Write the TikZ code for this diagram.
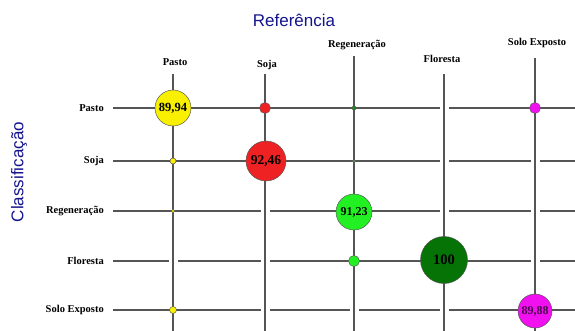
\documentclass[tikz,border=0pt]{standalone}
\usepackage{fontspec}
\setmainfont{Liberation Serif}
\newfontfamily\arialfont{Liberation Sans}
\definecolor{titblue}{HTML}{14148C}
\definecolor{gridgray}{HTML}{555555}
\definecolor{amarelo}{HTML}{F8F000}
\definecolor{vermelho}{HTML}{EE2222}
\definecolor{verde}{HTML}{22F022}
\definecolor{verdeesc}{HTML}{057305}
\definecolor{magenta2}{HTML}{F010F0}
\definecolor{roxo}{HTML}{4A0A4A}
\tikzset{
  grid/.style={gridgray,line width=1.4pt},
  gap/.style={white,line width=3pt},
  lbl/.style={font=\fontsize{10.5}{12}\selectfont\bfseries,inner sep=0pt},
  dot/.style={circle,draw=black!65,line width=0.5pt,inner sep=0pt,minimum size=#1,
    font=\fontsize{12.5}{14}\selectfont\bfseries}
}
\begin{document}
\begin{tikzpicture}[x=1pt,y=1pt]
            \useasboundingbox (0,0) rectangle (575,-331);
            % titulos
            \node [font=\arialfont\fontsize{17}{20}\selectfont,titblue] (ref) at (294,-20) {Referência};
            \node [font=\arialfont\fontsize{17}{20}\selectfont,titblue,rotate=90] (cla) at (19,-172) {Classificação};
            % colunas (referencia)
            \node [lbl] (hP) at (175,-62) {Pasto};
            \node [lbl] (hS) at (267,-65) {Soja};
            \node [lbl] (hR) at (357,-45) {Regeneração};
            \node [lbl] (hF) at (442,-59) {Floresta};
            \node [lbl] (hE) at (537,-43) {Solo Exposto};
            \coordinate (tP) at (173,-74);
            \coordinate (tS) at (265,-74);
            \coordinate (tR) at (354,-56);
            \coordinate (tF) at (444,-74);
            \coordinate (tE) at (535,-58);
            % linhas (classificacao)
            \node [lbl,anchor=east] (vP) at (104,-108) {Pasto};
            \node [lbl,anchor=east] (vS) at (104,-161) {Soja};
            \node [lbl,anchor=east] (vR) at (104,-211) {Regeneração};
            \node [lbl,anchor=east] (vF) at (104,-261) {Floresta};
            \node [lbl,anchor=east] (vE) at (104,-310) {Solo Exposto};
            \coordinate (lP) at (113,-108);
            \coordinate (lS) at (113,-161);
            \coordinate (lR) at (113,-211);
            \coordinate (lF) at (113,-261);
            \coordinate (lE) at (113,-310);
            \coordinate (bot) at (0,-331);
            \coordinate (rgt) at (575,0);
            % horizontais
            \draw [grid] (lP) -- (rgt |- lP);
            \draw [grid] (lS) -- (rgt |- lS);
            \draw [grid] (lR) -- (rgt |- lR);
            \draw [grid] (lF) -- (rgt |- lF);
            \draw [grid] (lE) -- (rgt |- lE);
            % cortes onde o valor e zero
            \draw [gap] ([xshift=-4.5pt]tF |- lP) -- ([xshift=4.5pt]tF |- lP);
            \draw [gap] ([xshift=-4.5pt]tF |- lS) -- ([xshift=4.5pt]tF |- lS);
            \draw [gap] ([xshift=-4.5pt]tE |- lS) -- ([xshift=4.5pt]tE |- lS);
            \draw [gap] ([xshift=-4.5pt]tS |- lR) -- ([xshift=4.5pt]tS |- lR);
            \draw [gap] ([xshift=-4.5pt]tF |- lR) -- ([xshift=4.5pt]tF |- lR);
            \draw [gap] ([xshift=-4.5pt]tE |- lR) -- ([xshift=4.5pt]tE |- lR);
            \draw [gap] ([xshift=-4.5pt]tP |- lF) -- ([xshift=4.5pt]tP |- lF);
            \draw [gap] ([xshift=-4.5pt]tS |- lF) -- ([xshift=4.5pt]tS |- lF);
            \draw [gap] ([xshift=-4.5pt]tE |- lF) -- ([xshift=4.5pt]tE |- lF);
            \draw [gap] ([xshift=-4.5pt]tS |- lE) -- ([xshift=4.5pt]tS |- lE);
            \draw [gap] ([xshift=-4.5pt]tR |- lE) -- ([xshift=4.5pt]tR |- lE);
            \draw [gap] ([xshift=-4.5pt]tF |- lE) -- ([xshift=4.5pt]tF |- lE);
            % verticais
            \draw [grid] (tP) -- (tP |- bot);
            \draw [grid] (tS) -- (tS |- bot);
            \draw [grid] (tR) -- (tR |- bot);
            \draw [grid] (tF) -- (tF |- bot);
            \draw [grid] (tE) -- (tE |- bot);
            % linha Pasto
            \node [dot=36pt,fill=amarelo] (cPP) at (tP |- lP) {89,94};
            \node [dot=11pt,fill=vermelho] (cPS) at (tS |- lP) {};
            \node [dot=4pt,fill=verde!60!black] (cPR) at (tR |- lP) {};
            \node [dot=11pt,fill=magenta2] (cPE) at (tE |- lP) {};
            % linha Soja
            \node [dot=6pt,fill=amarelo] (cSP) at (tP |- lS) {};
            \node [dot=40pt,fill=vermelho,font=\fontsize{13.5}{15}\selectfont\bfseries] (cSS) at ([xshift=1pt]tS |- lS) {92,46};
            \node [dot=3pt,fill=verde!30!gray] (cSR) at (tR |- lS) {};
            % linha Regeneracao
            \node [dot=3.6pt,fill=amarelo] (cRP) at (tP |- lR) {};
            \node [dot=36pt,fill=verde,font=\fontsize{12}{14}\selectfont\bfseries] (cRR) at ([yshift=-1pt]tR |- lR) {91,23};
            % linha Floresta
            \node [dot=11pt,fill=verde] (cFR) at (tR |- lF) {};
            \node [dot=47pt,fill=verdeesc,font=\fontsize{14.5}{16}\selectfont\bfseries] (cFF) at ([yshift=1pt]tF |- lF) {100};
            % linha Solo Exposto
            \node [dot=7pt,fill=amarelo] (cEP) at (tP |- lE) {};
            \node [dot=34pt,fill=magenta2,text=roxo,font=\fontsize{12}{14}\selectfont\bfseries] (cEE) at ([yshift=-1pt]tE |- lE) {89,88};
\end{tikzpicture}
\end{document}
